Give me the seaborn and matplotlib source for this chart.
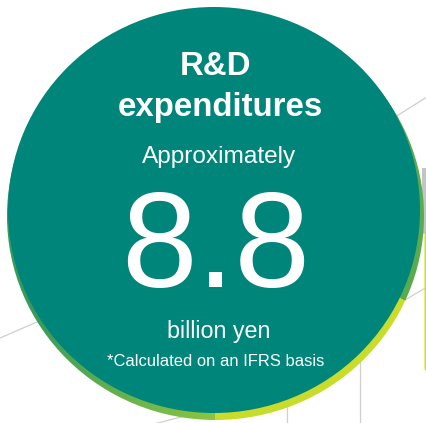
import numpy as np
import matplotlib
matplotlib.use("Agg")
import matplotlib.pyplot as plt
from matplotlib.patches import Ellipse, Rectangle, FancyBboxPatch
from matplotlib import font_manager
import seaborn as sns

# ---- content ----
headline = ["R&D", "expenditures"]
qualifier = "Approximately"
value = 8.8
unit = "billion yen"
note = "*Calculated on an IFRS basis"

# ---- style ----
sns.set_style("white")
names = {f.name for f in font_manager.fontManager.ttflist}
if "Liberation Sans Narrow" in names:
    FONT = "Liberation Sans Narrow"
    k = 1.0
else:
    FONT = "Liberation Sans"
    k = 0.88
plt.rcParams["font.family"] = [FONT, "DejaVu Sans"]

TEAL = "#00857a"
GRAY = "#cfcfcf"

W, H = 427, 423
fig = plt.figure(figsize=(W / 100, H / 100), dpi=100)
ax = fig.add_axes([0, 0, 1, 1])
ax.set_xlim(0, W)
ax.set_ylim(H, 0)
ax.axis("off")

# faint background lines (decoration)
deco_lines = [
    ((0, 338), (60, 312)),
    ((150, 425), (200, 412)),
    ((395, 117), (427, 97)),
    ((405, 300), (427, 287)),
    ((360, 360), (360, 423)),
    ((287, 405), (287, 423)),
]
for (x0, y0), (x1, y1) in deco_lines:
    ax.plot([x0, x1], [y0, y1], color=GRAY, lw=0.9, zorder=1)
ax.add_patch(Rectangle((422.5, 168), 6, 66, color="#c4c4c4", lw=0, zorder=1))
ax.add_patch(FancyBboxPatch((424.5, 233), 5, 138, boxstyle="round,pad=0,rounding_size=2.5",
                            color="#cddd2a", lw=0, zorder=1))

# gradient rim behind the disc
cx, cy = 215.5, 216.0
yy, xx = np.mgrid[0:H, 0:W] + 0.5
theta = np.degrees(np.arctan2(-(yy - cy), xx - cx))
def hx(c):
    return np.array([int(c[i:i + 2], 16) / 255 for i in (1, 3, 5)])
yel, lg, dg, gr = hx("#c9dc2c"), hx("#8cc540"), hx("#3a9a5c"), hx("#5aab50")
img = np.zeros((H, W, 3))
img[:] = gr
m_y = (theta <= -24) & (theta >= -90)
img[m_y] = yel
m_l = theta < -90
t = np.clip((-90 - theta) / 60, 0, 1)[..., None]
img[m_l] = (lg * (1 - t) + dg * t)[m_l]
img[theta > 100] = dg
rim = Ellipse((cx, cy), 417, 408, facecolor="none", edgecolor="none")
ax.add_patch(rim)
im = ax.imshow(img, extent=(0, W, H, 0), zorder=2, interpolation="bilinear")
im.set_clip_path(rim)
ax.set_xlim(0, W)
ax.set_ylim(H, 0)

# main disc
ax.add_patch(Ellipse((214, 210), 412, 406, color=TEAL, lw=0, zorder=3))

txt = dict(color="white", ha="center", va="baseline", zorder=5)
ax.text(216, 75, headline[0], fontsize=27 * k, fontweight="bold", **txt)
ax.text(220, 116, headline[1], fontsize=27 * k, fontweight="bold", **txt)
ax.text(219.5, 163, qualifier, fontsize=20 * k, **txt)
ax.text(216, 287, f"{value:.1f}", fontsize=109 * k if k == 1.0 else 98, **txt)
ax.text(219, 338, unit, fontsize=19 * k, **txt)
ax.text(215.5, 366, note, fontsize=13.5 * k, **txt)

fig.savefig("out.png", dpi=100)
